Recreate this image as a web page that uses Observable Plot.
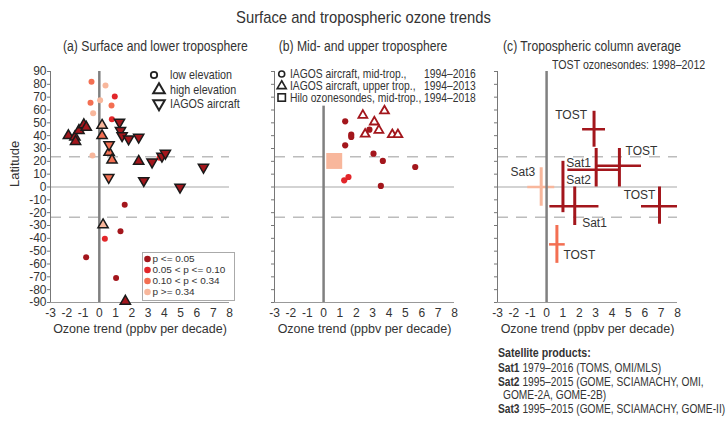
<!DOCTYPE html>
<html><head><meta charset="utf-8">
<script src="https://cdn.jsdelivr.net/npm/d3@7"></script>
<script src="https://cdn.jsdelivr.net/npm/@observablehq/plot@0.6"></script>
<style>
body{margin:0;background:#fff;}
#wrap{position:relative;width:727px;height:421px;overflow:hidden;font-family:'Liberation Sans',Arial,sans-serif;color:#333;}
.abs{position:absolute;white-space:nowrap;line-height:1;}
.panel{position:absolute;top:0;}
#sat div{position:absolute;white-space:nowrap;font-size:12px;line-height:1;transform:scaleX(0.85);transform-origin:left center;}
</style></head><body><div id="wrap"></div>
<script>
// ---------- data ----------
const xTicks = [-3,-2,-1,0,1,2,3,4,5,6,7,8];
const latTicks = [90,80,70,60,50,40,30,20,10,0,-10,-20,-30,-40,-50,-60,-70,-80,-90];
const tropicLats = [23.5, -23.5];
const pClasses = ["p <= 0.05", "0.05 < p <= 0.10", "0.10 < p < 0.34", "p >= 0.34"];
const pColors = ["#a3161c", "#e2262a", "#f36f52", "#f8b79c"];

// panel (a): [trend, latitude, p-class index]
const aLowElevation = [
  [-0.48,82,2],[0.38,79,3],[0.95,70.5,1],[-0.54,65.6,2],[0.05,67.6,3],[0.75,63.5,2],
  [-0.38,57.5,3],[0.77,52.8,1],[-1.1,43.5,3],[-0.42,24.5,3],[3.7,22.7,1],
  [1.56,-13.9,0],[1.3,-34.4,0],[0.34,-40.4,1],[-0.81,-54.7,0],[1.03,-71,0]
];
const aHighElevation = [
  [-1.9,40,0],[-1.5,39,0],[-1.46,35.5,0],[-1.25,44,0],[-0.95,48.5,0],[-0.8,46.6,0],
  [0.17,48,3],[0.17,40,2],[0.6,27,2],[0.78,21,2],[2.42,20,0],[0.23,-29.5,3],[1.6,-89,0]
];
const aIagosAircraft = [
  [1.24,50.5,0],[1.3,44,0],[1.4,40,0],[1.8,37.5,0],[2.42,38.8,0],[0.6,33,2],[0.58,7.5,2],
  [2.73,5,0],[3.24,19.5,0],[3.85,24,0],[4.06,26.3,0],[4.96,-0.1,0],[6.4,15.4,0]
];
// panel (b)
const bIagosMid = [
  [1.32,51.2,0],[2.8,44.7,0],[1.69,40.8,0],[1.69,39,0],[1.32,32.5,0],[3.05,26,0],
  [3.62,20.3,0],[5.6,15.6,0],[1.52,7.8,1],[1.26,5.2,1],[3.5,0.8,0]
];
const bIagosUpper = [[2.4,55.9],[3.72,59.3],[3.1,50.7],[2.54,41.2],[3.38,44.2],[4.2,40.8],[4.54,40.8]];
const bHilo = [[0.65,20.3,3]];
const bZeroLineTop = 63;
// panel (c): [name, trend, latLo, latHi, latMid, trendLo, trendHi, p-class index]
const cCrosses = [
  ["TOST",2.9,31,59,45,2.2,3.6,0],
  ["TOST",4.45,0,30,16.5,3.1,5.8,0],
  ["Sat1",3.03,0,30,13.5,1.3,4.4,0],
  ["Sat2",1.0,-20,20,0,1.0,1.0,0],
  ["Sat1",1.72,-30,0,-15,0.2,3.2,0],
  ["Sat3",-0.33,-15,15,0,-1.15,0.5,3],
  ["TOST",6.9,-29,0,-15,5.8,8.0,0],
  ["TOST",0.63,-59.5,-30,-44.7,0.18,1.14,2]
];
// labels: [text, trend, latitude]
const cLabels = [
  ["TOST",1.5,56.3],["TOST",5.8,27.7],["Sat1",1.96,18.7],["Sat2",1.96,5.1],
  ["Sat3",-1.45,11.7],["TOST",5.68,-6],["Sat1",2.93,-28],["TOST",2.0,-52.8]
];
const aLegendShapes = ["low elevation","high elevation","IAGOS aircraft"];
const bLegend = [["IAGOS aircraft, mid-trop.,","1994–2016"],["IAGOS aircraft, upper trop.,","1994–2013"],["Hilo ozonesondes, mid-trop.,","1994–2018"]];
const satProducts = [["Sat1"," 1979–2016 (TOMS, OMI/MLS)"],["Sat2"," 1995–2015 (GOME, SCIAMACHY, OMI,"],[""," GOME-2A, GOME-2B)"],["Sat3"," 1995–2015 (GOME, SCIAMACHY, GOME-II)"]];

// ---------- drawing ----------
const FONT = "'Liberation Sans',Arial,sans-serif";
const wrap = document.getElementById("wrap");
const triangleDown = {
  draw(ctx, size) {
    const y = Math.sqrt(size / (Math.sqrt(3) * 3));
    ctx.moveTo(0, y * 2);
    ctx.lineTo(-Math.sqrt(3) * y, -y);
    ctx.lineTo(Math.sqrt(3) * y, -y);
    ctx.closePath();
  }
};
const X = d => d[0], Y = d => d[1], P = d => pClasses[d[2]];

function basePlot(width, ml, mr, showLat, marks) {
  return Plot.plot({
    width, height: 345, marginLeft: ml, marginRight: mr, marginTop: 71, marginBottom: 43,
    x: {domain: [-3, 8]}, y: {domain: [-90, 90]},
    color: {type: "ordinal", domain: pClasses, range: pColors},
    style: {fontFamily: FONT, fontSize: "12px", color: "#333", background: "none", overflow: "visible"},
    marks: [
      Plot.ruleY([0], {stroke: "#c4c4c4", strokeWidth: 1.5}),
      Plot.ruleY(tropicLats, {stroke: "#bcbcbc", strokeWidth: 1.5, strokeDasharray: "11 8"}),
      Plot.axisX({ticks: xTicks, tickSize: 0, tickPadding: 6, tickFormat: d => String(d), label: null}),
      Plot.axisY({ticks: latTicks, tickSize: 3, tickPadding: 1, tickFormat: showLat ? (d => String(d)) : (() => ""), label: null, stroke: "#777"}),
      Plot.ruleX([-3], {stroke: "#777"}),
      Plot.ruleY([-90], {stroke: "#999"}),
      Plot.text(["Ozone trend (ppbv per decade)"], {frameAnchor: "bottom", dy: 30, fontSize: 12.5}),
      ...marks
    ]
  });
}

function place(el, left) { const d = document.createElement("div"); d.className = "panel"; d.style.left = left + "px"; d.appendChild(el); wrap.appendChild(d); }

// panel a
place(basePlot(240, 50, 11, true, [
  Plot.ruleX([0], {stroke: "#808080", strokeWidth: 2.5}),
  Plot.text(["Latitude"], {frameAnchor: "left", dx: -36, rotate: -90, fontSize: 13}),
  Plot.dot(aLowElevation, {x: X, y: Y, fill: P, r: 3}),
  Plot.dot(aHighElevation, {x: X, y: Y, fill: P, r: 3.8, symbol: "triangle", stroke: "#1a1a1a", strokeWidth: 1.5}),
  Plot.dot(aIagosAircraft, {x: X, y: Y, fill: P, r: 3.8, symbol: triangleDown, stroke: "#1a1a1a", strokeWidth: 1.5})
]), 0);

// panel b
place(basePlot(225, 34, 11, false, [
  Plot.ruleX([0], {y1: -90, y2: bZeroLineTop, stroke: "#808080", strokeWidth: 2.5}),
  Plot.dot(bHilo, {x: X, y: Y, fill: P, r: 9, symbol: "square"}),
  Plot.dot(bIagosMid, {x: X, y: Y, fill: P, r: 3.1}),
  Plot.dot(bIagosUpper, {x: X, y: Y, fill: "white", r: 3.3, symbol: "triangle", stroke: pColors[0], strokeWidth: 1.8})
]), 240);

// panel c
place(basePlot(230, 32, 18, false, [
  Plot.ruleX(cCrosses, {x: d => d[1], y1: d => d[2], y2: d => d[3], stroke: d => pClasses[d[7]], strokeWidth: 3}),
  Plot.ruleY(cCrosses, {y: d => d[4], x1: d => d[5], x2: d => d[6], stroke: d => pClasses[d[7]], strokeWidth: 2.5}),
  Plot.ruleX([0], {stroke: "#808080", strokeWidth: 2.5}),
  Plot.text(cLabels, {x: d => d[1], y: d => d[2], text: d => d[0], fontSize: 12, fill: "#333"})
]), 465);

// titles
function txt(s, css) { const d = document.createElement("div"); d.className = "abs"; d.textContent = s; Object.assign(d.style, css); wrap.appendChild(d); return d; }
const SQ = "scaleX(0.87)";
txt("Surface and tropospheric ozone trends", {left: "0px", width: "727px", textAlign: "center", top: "9px", fontSize: "17px", transform: SQ});
txt("(a) Surface and lower troposphere", {left: "50px", width: "200px", textAlign: "center", top: "39px", fontSize: "14px", transform: SQ});
txt("(b) Mid- and upper troposphere", {left: "263px", width: "200px", textAlign: "center", top: "39px", fontSize: "14px", transform: SQ});
txt("(c) Tropospheric column average", {left: "490px", width: "200px", textAlign: "center", top: "39px", fontSize: "14px", transform: SQ});
txt("TOST ozonesondes: 1998–2012", {left: "552px", top: "59px", fontSize: "12.5px", transform: "scaleX(0.85)", transformOrigin: "left center"});

// legends overlay
const svg = d3.select(wrap).append("svg").attr("width", 727).attr("height", 421)
  .style("position", "absolute").style("left", 0).style("top", 0).style("font-family", FONT).style("pointer-events", "none");
function label(x, y, s, size, sx = 0.86) {
  svg.append("text").attr("transform", `translate(${x},${y}) scale(${sx},1)`).attr("dy", "0.35em")
    .attr("font-size", size).attr("fill", "#333").text(s);
}
// (a) shape legend
const shapeRows = [75, 90, 103.5];
svg.append("circle").attr("cx", 154).attr("cy", shapeRows[0]).attr("r", 3.2).attr("fill", "white").attr("stroke", "#222").attr("stroke-width", 1.8);
svg.append("path").attr("d", d3.symbol(d3.symbolTriangle, 58)()).attr("transform", `translate(159,${shapeRows[1]})`).attr("fill", "white").attr("stroke", "#222").attr("stroke-width", 2);
svg.append("path").attr("d", d3.symbol(triangleDown, 58)()).attr("transform", `translate(159,${shapeRows[2]})`).attr("fill", "white").attr("stroke", "#222").attr("stroke-width", 2);
aLegendShapes.forEach((s, i) => label(170, shapeRows[i], s, 12.5));
// (a) p legend
svg.append("rect").attr("x", 142.5).attr("y", 252.5).attr("width", 92).attr("height", 48).attr("fill", "white").attr("stroke", "#aaa");
const pRows = [259, 270, 281, 292];
pClasses.forEach((s, i) => {
  svg.append("circle").attr("cx", 147.5).attr("cy", pRows[i]).attr("r", 3.3).attr("fill", pColors[i]);
  label(152.5, pRows[i], s, 9.5, 1.05);
});
// (b) legend
const bRows = [74, 86, 97.5];
svg.append("circle").attr("cx", 281.7).attr("cy", bRows[0]).attr("r", 3).attr("fill", "white").attr("stroke", "#222").attr("stroke-width", 1.6);
svg.append("path").attr("d", d3.symbol(d3.symbolTriangle, 36)()).attr("transform", `translate(281.7,${bRows[1]})`).attr("fill", "white").attr("stroke", "#222").attr("stroke-width", 1.6);
svg.append("rect").attr("x", 278).attr("y", bRows[2] - 3.7).attr("width", 7.4).attr("height", 7.4).attr("fill", "white").attr("stroke", "#222").attr("stroke-width", 1.6);
bLegend.forEach((r, i) => { label(290, bRows[i], r[0], 12); label(424, bRows[i], r[1], 12); });

// satellite products
const sat = document.createElement("div"); sat.id = "sat"; wrap.appendChild(sat);
const head = document.createElement("div"); head.style.left = "498px"; head.style.top = "347px"; head.style.fontWeight = "bold"; head.style.fontSize = "12.5px"; head.textContent = "Satellite products:"; sat.appendChild(head);
satProducts.forEach((r, i) => {
  const d = document.createElement("div"); d.style.left = (r[0] ? 498 : 503) + "px"; d.style.top = (362 + i * 13.6) + "px";
  if (r[0]) { const b = document.createElement("b"); b.textContent = r[0]; d.appendChild(b); }
  d.appendChild(document.createTextNode(r[1])); sat.appendChild(d);
});
</script></body></html>
